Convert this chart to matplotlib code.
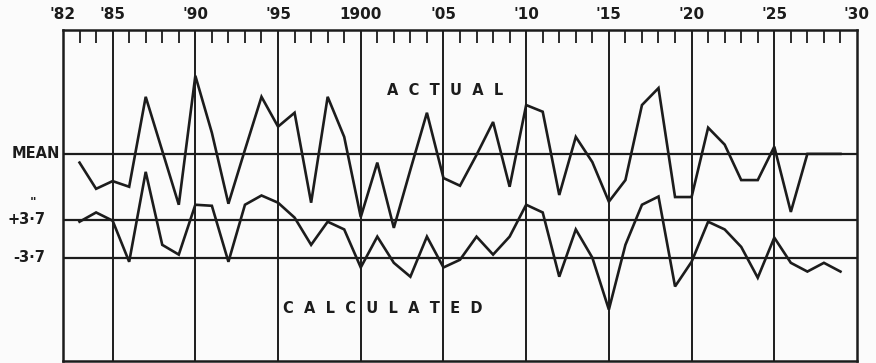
import matplotlib
matplotlib.use("Agg")
import matplotlib.pyplot as plt
from matplotlib.ticker import FixedLocator

# ---- data (inches of deviation) ----
years = list(range(1883, 1930))
actual = [-1.7, -6.8, -5.3, -6.4, 11.1, 0.6, -9.9, 15.2, 4.1, -9.7,
          0.8, 11.1, 5.3, 8.0, -9.5, 11.1, 3.3, -12.3, -1.7, -14.4,
          -3.1, 8.0, -4.7, -6.2, -0.2, 6.2, -6.4, 9.5, 8.2, -8.0,
          3.3, -1.6, -9.3, -5.1, 9.5, 12.8, -8.4, -8.4, 5.1, 1.8,
          -5.1, -5.1, 1.4, -11.3, 0.0, 0.0, 0.0]
calculated = [3.3, 5.1, 3.5, -4.5, 13.0, -1.2, -3.1, 6.6, 6.4, -4.5,
              6.6, 8.4, 7.0, 4.1, -1.2, 3.3, 1.8, -5.6, 0.4, -4.7,
              -7.4, 0.4, -5.6, -4.1, 0.4, -3.1, 0.4, 6.6, 5.1, -7.4,
              1.8, -3.7, -13.8, -1.2, 6.6, 8.2, -9.3, -4.5, 3.3, 1.8,
              -1.6, -7.6, 0.2, -4.7, -6.4, -4.7, -6.4]
calc_base = -16.5          # plotting offset of the calculated curve
band = 3.7                 # +/- 3.7 inch lines
major_years = [1882, 1885, 1890, 1895, 1900, 1905, 1910, 1915, 1920, 1925, 1930]
major_labels = ["'82", "'85", "'90", "'95", "1900", "'05", "'10", "'15", "'20", "'25", "'30"]

ink = "#1c1c1c"
bg = "#fbfbfb"

fig = plt.figure(figsize=(8.76, 3.63), dpi=100, facecolor=bg)
ax = fig.add_axes([63/876, 1 - 361/363, (857 - 63)/876, (361 - 30)/363])
ax.set_facecolor(bg)
ax.set_xlim(1882, 1930)
ax.set_ylim(-40.3, 24.1)

for s in ax.spines.values():
    s.set_color(ink)
    s.set_linewidth(1.8)

# vertical grid at the major years
for yr in major_years[1:-1]:
    ax.axvline(yr, color=ink, lw=1.4, zorder=1)

# horizontal reference lines
ax.axhline(0, color=ink, lw=1.6, zorder=1)
ax.axhline(calc_base + band, color=ink, lw=1.6, zorder=1)
ax.axhline(calc_base - band, color=ink, lw=1.6, zorder=1)

# series
ax.plot(years, actual, color=ink, lw=1.9, zorder=3, solid_joinstyle="miter")
ax.plot(years, [calc_base + v for v in calculated], color=ink, lw=1.9, zorder=3,
        solid_joinstyle="miter")

# ticks on top
ax.xaxis.set_ticks_position("top")
ax.set_xticks(major_years)
ax.set_xticklabels(major_labels, fontsize=11, fontweight="bold", color=ink)
minor = [y for y in range(1883, 1930) if y not in major_years]
ax.xaxis.set_minor_locator(FixedLocator(minor))
ax.tick_params(axis="x", which="major", length=0, pad=6)
ax.tick_params(axis="x", which="minor", direction="in", length=9.5, width=1.3,
               color=ink, top=True, bottom=False)
ax.set_yticks([])

# left labels
ytr = ax.get_yaxis_transform()
ax.text(-0.004, 0, "MEAN", transform=ytr, ha="right", va="center",
        fontsize=10.5, fontweight="bold", color=ink)
ax.text(-0.022, calc_base + band, "+3·7", transform=ytr, ha="right", va="center",
        fontsize=10.5, fontweight="bold", color=ink)
fig.text(33/876, 1 - 203/363, '"', ha="center", va="center",
         fontsize=9, fontweight="bold", color=ink)
ax.text(-0.022, calc_base - band, "-3·7", transform=ytr, ha="right", va="center",
        fontsize=10.5, fontweight="bold", color=ink)

# series names
ax.text(1905.1, 12.4, "A  C  T  U  A  L", ha="center", va="center",
        fontsize=10.5, fontweight="bold", color=ink)
ax.text(1901.3, -30.0, "C  A  L  C  U  L  A  T  E  D", ha="center", va="center",
        fontsize=10.5, fontweight="bold", color=ink)

fig.savefig("out.png", dpi=100, facecolor=bg)
